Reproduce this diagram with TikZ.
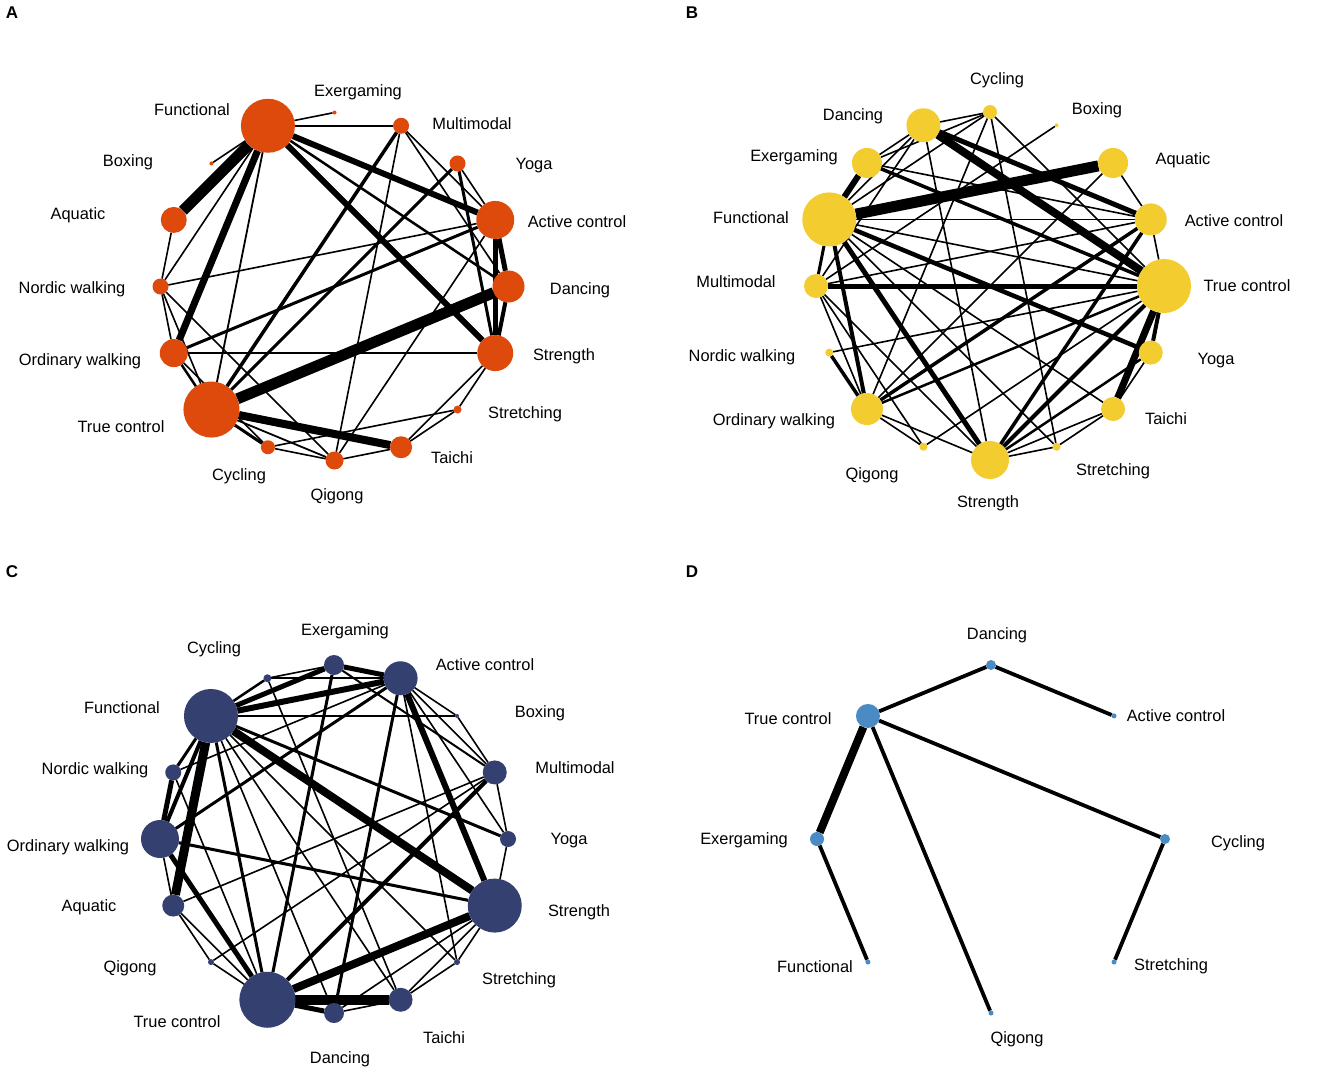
\documentclass[tikz,border=0pt]{standalone}
\usepackage{fontspec}
\setmainfont{Liberation Sans}
\pgfdeclarelayer{bg}
\pgfdeclarelayer{edges}
\pgfsetlayers{bg,edges,main}
\definecolor{colA}{RGB}{221,74,12}
\definecolor{colB}{RGB}{243,205,48}
\definecolor{colC}{RGB}{52,64,112}
\definecolor{colD}{RGB}{74,139,196}
\begin{document}
\begin{tikzpicture}[x=1pt,y=-1pt,
  nd/.style={circle,inner sep=0pt,outer sep=0pt,minimum size=#1pt},
  nA/.style={nd=#1,fill=colA},
  nB/.style={nd=#1,fill=colB},
  nC/.style={nd=#1,fill=colC},
  nD/.style={nd=#1,fill=colD},
  lab/.style={font=\fontsize{16.4}{19}\selectfont,inner sep=0pt,anchor=center},
  plet/.style={font=\fontsize{17}{20}\selectfont\bfseries,inner sep=0pt,anchor=center},
  ew/.style={line width=#1pt,black},
  ew/.default=1.6]
\useasboundingbox (0,0) rectangle (1325,1082);
\begin{pgfonlayer}{bg}
\fill[white] (0,0) rectangle (1325,1082);
\end{pgfonlayer}

% panel letters
\node[plet] (LA) at (12,13) {A};
\node[plet] (LB) at (692,13) {B};
\node[plet] (LC) at (12,572) {C};
\node[plet] (LD) at (692,572) {D};

% ================= Panel A =================
\begin{scope}[shift={(334.5,286.5)}]
\node[nA=4]  (aExer)    at (-90:174) {};
\node[nA=16] (aMulti)   at (-67.5:174) {};
\node[nA=16] (aYoga)    at (-45:174) {};
\node[nA=38] (aAC)      at (-22.5:174) {};
\node[nA=32] (aDance)   at (0:174) {};
\node[nA=36] (aStr)     at (22.5:174) {};
\node[nA=8]  (aStretch) at (45:174) {};
\node[nA=22] (aTaichi)  at (67.5:174) {};
\node[nA=18] (aQig)     at (90:174) {};
\node[nA=14] (aCyc)     at (112.5:174) {};
\node[nA=56] (aTC)      at (135:174) {};
\node[nA=28] (aOW)      at (157.5:174) {};
\node[nA=16] (aNW)      at (180:174) {};
\node[nA=26] (aAq)      at (202.5:174) {};
\node[nA=4]  (aBox)     at (225:174) {};
\node[nA=54] (aFunc)    at (247.5:174) {};
\end{scope}
\node[lab] (tAExer) at (358,92) {Exergaming};
\node[lab] (tAFunc) at (192,110) {Functional};
\node[lab] (tAMulti) at (472,124) {Multimodal};
\node[lab] (tABox) at (128,162) {Boxing};
\node[lab] (tAYoga) at (534,166) {Yoga};
\node[lab] (tAAq) at (78,215) {Aquatic};
\node[lab] (tAAC) at (577,222) {Active control};
\node[lab] (tANW) at (72,289) {Nordic walking};
\node[lab] (tADance) at (580,290) {Dancing};
\node[lab] (tAOW) at (80,361) {Ordinary walking};
\node[lab] (tAStr) at (564,356) {Strength};
\node[lab] (tAStretch) at (525,414) {Stretching};
\node[lab] (tATC) at (121,427) {True control};
\node[lab] (tATaichi) at (452,458) {Taichi};
\node[lab] (tACyc) at (239,476) {Cycling};
\node[lab] (tAQig) at (337,496) {Qigong};

\begin{pgfonlayer}{edges}
\draw[ew=11] (aFunc) -- (aAq);
\draw[ew=7] (aFunc) -- (aOW);
\draw[ew=6] (aFunc) -- (aAC);
\draw[ew=6] (aFunc) -- (aStr);
\draw[ew=2.5] (aFunc) -- (aDance);
\draw[ew=2.5] (aFunc) -- (aMulti);
\draw[ew] (aFunc) -- (aExer);
\draw[ew] (aFunc) -- (aBox);
\draw[ew=1.8] (aFunc) -- (aTC);
\draw[ew] (aFunc) -- (aNW);
\draw[ew=3.5] (aMulti) -- (aTC);
\draw[ew] (aMulti) -- (aQig);
\draw[ew] (aMulti) -- (aAC);
\draw[ew] (aMulti) -- (aDance);
\draw[ew=3] (aYoga) -- (aTC);
\draw[ew=3] (aYoga) -- (aStr);
\draw[ew] (aYoga) -- (aAC);
\draw[ew=5] (aAC) -- (aDance);
\draw[ew=5] (aAC) -- (aStr);
\draw[ew] (aAC) -- (aNW);
\draw[ew=3] (aAC) -- (aOW);
\draw[ew] (aAC) -- (aQig);
\draw[ew=11] (aDance) -- (aTC);
\draw[ew=4] (aDance) -- (aStr);
\draw[ew] (aStr) -- (aOW);
\draw[ew] (aStr) -- (aStretch);
\draw[ew] (aStr) -- (aTaichi);
\draw[ew] (aStretch) -- (aCyc);
\draw[ew] (aStretch) -- (aTaichi);
\draw[ew=8] (aTaichi) -- (aTC);
\draw[ew] (aTaichi) -- (aQig);
\draw[ew=1.8] (aQig) -- (aTC);
\draw[ew] (aQig) -- (aCyc);
\draw[ew] (aQig) -- (aNW);
\draw[ew=3] (aCyc) -- (aTC);
\draw[ew=2.5] (aTC) -- (aOW);
\draw[ew] (aTC) -- (aNW);
\draw[ew] (aOW) -- (aNW);
\draw[ew] (aNW) -- (aAq);
\draw[ew] (aOW) -- (aCyc);
\end{pgfonlayer}

% ================= Panel B =================
\begin{scope}[shift={(990,286)}]
\node[nB=14] (bCyc)     at (-90:174) {};
\node[nB=4]  (bBox)     at (-67.5:174) {};
\node[nB=30] (bAq)      at (-45:174) {};
\node[nB=32] (bAC)      at (-22.5:174) {};
\node[nB=54] (bTC)      at (0:174) {};
\node[nB=24] (bYoga)    at (22.5:174) {};
\node[nB=24] (bTaichi)  at (45:174) {};
\node[nB=8]  (bStretch) at (67.5:174) {};
\node[nB=38] (bStr)     at (90:174) {};
\node[nB=8]  (bQig)     at (112.5:174) {};
\node[nB=32] (bOW)      at (135:174) {};
\node[nB=8]  (bNW)      at (157.5:174) {};
\node[nB=24] (bMulti)   at (180:174) {};
\node[nB=54] (bFunc)    at (202.5:174) {};
\node[nB=30] (bExer)    at (225:174) {};
\node[nB=34] (bDance)   at (247.5:174) {};
\end{scope}
\node[lab] (tBCyc) at (997,80) {Cycling};
\node[lab] (tBDance) at (853,116) {Dancing};
\node[lab] (tBBox) at (1097,110) {Boxing};
\node[lab] (tBExer) at (794,157) {Exergaming};
\node[lab] (tBAq) at (1183,160) {Aquatic};
\node[lab] (tBFunc) at (751,218) {Functional};
\node[lab] (tBAC) at (1234,221) {Active control};
\node[lab] (tBMulti) at (736,282) {Multimodal};
\node[lab] (tBTC) at (1247,286) {True control};
\node[lab] (tBNW) at (742,357) {Nordic walking};
\node[lab] (tBYoga) at (1216,361) {Yoga};
\node[lab] (tBOW) at (774,421) {Ordinary walking};
\node[lab] (tBTaichi) at (1166,419) {Taichi};
\node[lab] (tBQig) at (872,475) {Qigong};
\node[lab] (tBStretch) at (1113,471) {Stretching};
\node[lab] (tBStr) at (988,503) {Strength};

\begin{pgfonlayer}{edges}
\draw[ew=11] (bFunc) -- (bAq);
\draw[ew=6] (bFunc) -- (bExer);
\draw[ew=5] (bMulti) -- (bTC);
\draw[ew=8] (bDance) -- (bTC);
\draw[ew=5] (bDance) -- (bAC);
\draw[ew=4.5] (bFunc) -- (bYoga);
\draw[ew=5] (bFunc) -- (bStr);
\draw[ew=4] (bFunc) -- (bOW);
\draw[ew=7] (bTC) -- (bTaichi);
\draw[ew=4] (bTC) -- (bStr);
\draw[ew=3.5] (bAC) -- (bStr);
\draw[ew=3.5] (bExer) -- (bTC);
\draw[ew=3.5] (bOW) -- (bAC);
\draw[ew=2.5] (bOW) -- (bTC);
\draw[ew=3.5] (bNW) -- (bOW);
\draw[ew=3] (bFunc) -- (bMulti);
\draw[ew=4] (bTC) -- (bYoga);
\draw[ew=2.5] (bYoga) -- (bStr);
\draw[ew] (bFunc) -- (bDance);
\draw[ew] (bFunc) -- (bCyc);
\draw[ew] (bFunc) -- (bAC);
\draw[ew] (bFunc) -- (bTC);
\draw[ew] (bFunc) -- (bTaichi);
\draw[ew] (bFunc) -- (bStretch);
\draw[ew] (bDance) -- (bCyc);
\draw[ew] (bDance) -- (bExer);
\draw[ew] (bDance) -- (bStr);
\draw[ew] (bDance) -- (bMulti);
\draw[ew] (bExer) -- (bCyc);
\draw[ew] (bExer) -- (bAC);
\draw[ew] (bCyc) -- (bTC);
\draw[ew] (bCyc) -- (bStretch);
\draw[ew] (bCyc) -- (bOW);
\draw[ew] (bBox) -- (bMulti);
\draw[ew] (bAq) -- (bAC);
\draw[ew] (bAq) -- (bOW);
\draw[ew] (bAC) -- (bTC);
\draw[ew] (bAC) -- (bMulti);
\draw[ew] (bTC) -- (bNW);
\draw[ew] (bTC) -- (bQig);
\draw[ew] (bYoga) -- (bTaichi);
\draw[ew] (bTaichi) -- (bStr);
\draw[ew] (bTaichi) -- (bStretch);
\draw[ew] (bStr) -- (bStretch);
\draw[ew] (bStr) -- (bOW);
\draw[ew] (bOW) -- (bMulti);
\draw[ew] (bOW) -- (bQig);
\draw[ew] (bQig) -- (bMulti);
\draw[ew] (bMulti) -- (bStr);
\end{pgfonlayer}

% ================= Panel C =================
\begin{scope}[shift={(334,839)}]
\node[nC=20] (cExer)    at (-90:174) {};
\node[nC=34] (cAC)      at (-67.5:174) {};
\node[nC=4]  (cBox)     at (-45:174) {};
\node[nC=24] (cMulti)   at (-22.5:174) {};
\node[nC=16] (cYoga)    at (0:174) {};
\node[nC=54] (cStr)     at (22.5:174) {};
\node[nC=6]  (cStretch) at (45:174) {};
\node[nC=24] (cTaichi)  at (67.5:174) {};
\node[nC=20] (cDance)   at (90:174) {};
\node[nC=56] (cTC)      at (112.5:174) {};
\node[nC=6]  (cQig)     at (135:174) {};
\node[nC=22] (cAq)      at (157.5:174) {};
\node[nC=38] (cOW)      at (180:174) {};
\node[nC=16] (cNW)      at (202.5:174) {};
\node[nC=54] (cFunc)    at (225:174) {};
\node[nC=8]  (cCyc)     at (247.5:174) {};
\end{scope}
\node[lab] (tCExer) at (345,631) {Exergaming};
\node[lab] (tCCyc) at (214,649) {Cycling};
\node[lab] (tCAC) at (485,665) {Active control};
\node[lab] (tCFunc) at (122,708) {Functional};
\node[lab] (tCBox) at (540,713) {Boxing};
\node[lab] (tCNW) at (95,770) {Nordic walking};
\node[lab] (tCMulti) at (575,768) {Multimodal};
\node[lab] (tCOW) at (68,847) {Ordinary walking};
\node[lab] (tCYoga) at (569,841) {Yoga};
\node[lab] (tCAq) at (89,907) {Aquatic};
\node[lab] (tCStr) at (579,912) {Strength};
\node[lab] (tCQig) at (130,968) {Qigong};
\node[lab] (tCStretch) at (519,980) {Stretching};
\node[lab] (tCTC) at (177,1022) {True control};
\node[lab] (tCTaichi) at (444,1038) {Taichi};
\node[lab] (tCDance) at (340,1059) {Dancing};

\begin{pgfonlayer}{edges}
\draw[ew=5] (cFunc) -- (cExer);
\draw[ew=6] (cFunc) -- (cAC);
\draw[ew=2.5] (cFunc) -- (cCyc);
\draw[ew=1.6] (cFunc) -- (cBox);
\draw[ew=3] (cFunc) -- (cYoga);
\draw[ew=8] (cFunc) -- (cStr);
\draw[ew] (cFunc) -- (cStretch);
\draw[ew] (cFunc) -- (cTaichi);
\draw[ew] (cFunc) -- (cDance);
\draw[ew=3] (cFunc) -- (cTC);
\draw[ew=9] (cFunc) -- (cAq);
\draw[ew=4] (cFunc) -- (cOW);
\draw[ew=3] (cFunc) -- (cNW);
\draw[ew] (cExer) -- (cCyc);
\draw[ew=5] (cExer) -- (cAC);
\draw[ew=3] (cExer) -- (cTC);
\draw[ew=2] (cExer) -- (cMulti);
\draw[ew] (cCyc) -- (cTaichi);
\draw[ew] (cCyc) -- (cAC);
\draw[ew=6] (cAC) -- (cStr);
\draw[ew=3] (cAC) -- (cDance);
\draw[ew=3] (cAC) -- (cOW);
\draw[ew] (cAC) -- (cNW);
\draw[ew] (cAC) -- (cMulti);
\draw[ew] (cAC) -- (cYoga);
\draw[ew] (cAC) -- (cStretch);
\draw[ew] (cAC) -- (cBox);
\draw[ew=4] (cMulti) -- (cTC);
\draw[ew] (cMulti) -- (cAq);
\draw[ew] (cMulti) -- (cBox);
\draw[ew] (cMulti) -- (cYoga);
\draw[ew] (cMulti) -- (cQig);
\draw[ew] (cYoga) -- (cStr);
\draw[ew=8] (cStr) -- (cTC);
\draw[ew=3] (cStr) -- (cOW);
\draw[ew] (cStr) -- (cTaichi);
\draw[ew] (cStr) -- (cDance);
\draw[ew] (cStr) -- (cStretch);
\draw[ew=10] (cTaichi) -- (cTC);
\draw[ew] (cTaichi) -- (cStretch);
\draw[ew] (cTaichi) -- (cDance);
\draw[ew=5] (cDance) -- (cTC);
\draw[ew=5] (cTC) -- (cOW);
\draw[ew] (cTC) -- (cAq);
\draw[ew] (cTC) -- (cQig);
\draw[ew] (cTC) -- (cNW);
\draw[ew=5] (cOW) -- (cNW);
\draw[ew] (cOW) -- (cAq);
\draw[ew] (cAq) -- (cQig);
\end{pgfonlayer}

% ================= Panel D =================
\begin{scope}[shift={(991,839)}]
\node[nD=10] (dDance)   at (-90:174) {};
\node[nD=5]  (dAC)      at (-45:174) {};
\node[nD=10] (dCyc)     at (0:174) {};
\node[nD=5]  (dStretch) at (45:174) {};
\node[nD=5]  (dQig)     at (90:174) {};
\node[nD=5]  (dFunc)    at (135:174) {};
\node[nD=14] (dExer)    at (180:174) {};
\node[nD=24] (dTC)      at (225:174) {};
\end{scope}
\node[lab] (tDDance) at (997,635) {Dancing};
\node[lab] (tDTC) at (788,719) {True control};
\node[lab] (tDAC) at (1176,716) {Active control};
\node[lab] (tDExer) at (744,840) {Exergaming};
\node[lab] (tDCyc) at (1238,843) {Cycling};
\node[lab] (tDFunc) at (815,967) {Functional};
\node[lab] (tDStretch) at (1171,966) {Stretching};
\node[lab] (tDQig) at (1017,1039) {Qigong};

\begin{pgfonlayer}{edges}
\draw[ew=3.8] (dTC) -- (dDance);
\draw[ew=3.8] (dDance) -- (dAC);
\draw[ew=8] (dTC) -- (dExer);
\draw[ew=3.8] (dExer) -- (dFunc);
\draw[ew=3.8] (dTC) -- (dQig);
\draw[ew=3.8] (dTC) -- (dCyc);
\draw[ew=3.8] (dCyc) -- (dStretch);
\end{pgfonlayer}
\end{tikzpicture}
\end{document}
